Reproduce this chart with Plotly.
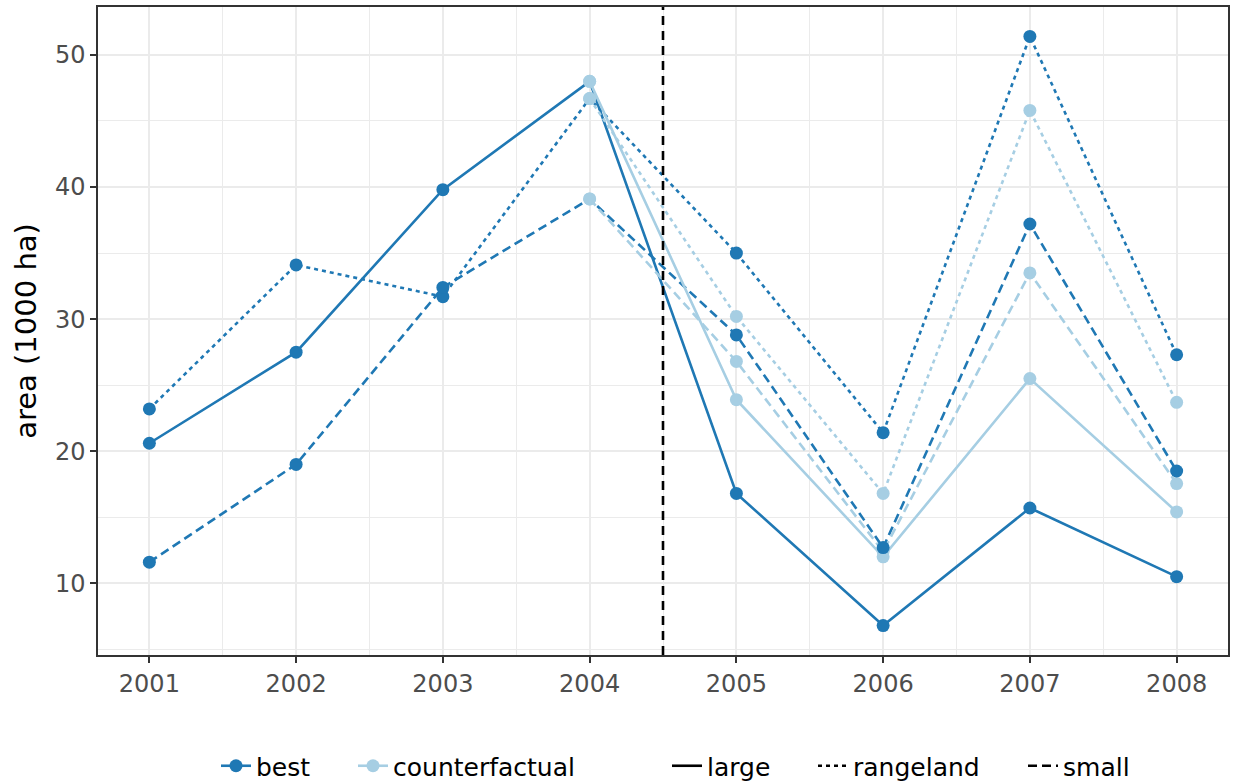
import plotly.graph_objects as go

years = [2001, 2002, 2003, 2004, 2005, 2006, 2007, 2008]
best_large = [20.6, 27.5, 39.8, 48.0, 16.8, 6.8, 15.7, 10.5]
best_rangeland = [23.2, 34.1, 31.7, 46.7, 35.0, 21.4, 51.4, 27.3]
best_small = [11.6, 19.0, 32.4, 39.1, 28.8, 12.7, 37.2, 18.5]

cf_years = [2004, 2005, 2006, 2007, 2008]
cf_large = [48.0, 23.9, 12.0, 25.5, 15.4]
cf_rangeland = [46.7, 30.2, 16.8, 45.8, 23.7]
cf_small = [39.1, 26.8, 12.4, 33.5, 17.55]

scenarios = ["best", "counterfactual"]
types = ["large", "rangeland", "small"]
policy_year = 2004.5

BEST_C = "#1F78B4"
CF_C = "#A6CEE3"
dash_of = {"large": "solid", "rangeland": "4px,4px", "small": "9px,5px"}

best = {"large": best_large, "rangeland": best_rangeland, "small": best_small}
cf = {"large": cf_large, "rangeland": cf_rangeland, "small": cf_small}

FONT = "DejaVu Sans"
LW = 2.6
MS = 13
fig = go.Figure()

# lines (under points)
for t in types:
    fig.add_trace(go.Scatter(x=years, y=best[t], mode="lines",
                             line=dict(color=BEST_C, width=LW, dash=dash_of[t]),
                             showlegend=False, hoverinfo="skip"))
for t in types:
    fig.add_trace(go.Scatter(x=cf_years, y=cf[t], mode="lines",
                             line=dict(color=CF_C, width=LW, dash=dash_of[t]),
                             showlegend=False, hoverinfo="skip"))

# points
for t in types:
    fig.add_trace(go.Scatter(x=cf_years, y=cf[t], mode="markers",
                             marker=dict(color=CF_C, size=MS),
                             showlegend=False))
for t in types:
    cols = []
    for yr, v in zip(years, best[t]):
        if yr in cf_years and cf[t][cf_years.index(yr)] == v:
            cols.append(CF_C)
        else:
            cols.append(BEST_C)
    fig.add_trace(go.Scatter(x=years, y=best[t], mode="markers",
                             marker=dict(color=cols, size=MS),
                             showlegend=False))

# legends
legend_ids = ["legend", "legend2", "legend3", "legend4", "legend5"]
for name, col, lid in zip(scenarios, [BEST_C, CF_C], legend_ids[:2]):
    fig.add_trace(go.Scatter(x=[None], y=[None], mode="lines+markers", name=name,
                             line=dict(color=col, width=LW),
                             marker=dict(color=col, size=MS), legend=lid))
for t, lid in zip(types, legend_ids[2:]):
    fig.add_trace(go.Scatter(x=[None], y=[None], mode="lines", name=t,
                             line=dict(color="black", width=LW, dash=dash_of[t]),
                             legend=lid))

fig.add_shape(type="line", x0=policy_year, x1=policy_year, y0=0, y1=1,
              xref="x", yref="paper",
              line=dict(color="black", width=2.6, dash="9px,6px"))

text_x = [260, 397, 711, 857, 1067]
leg_common = dict(orientation="h", xref="container", yref="container",
                  yanchor="middle", y=(782 - 766) / 782, xanchor="left",
                  font=dict(family=FONT, size=25, color="black"),
                  bgcolor="rgba(0,0,0,0)", borderwidth=0)
legends = {}
for lid, tx in zip(legend_ids, text_x):
    legends[lid] = dict(leg_common, x=(tx - 44) / 1235)

fig.update_layout(
    width=1235, height=782,
    margin=dict(l=98, r=6, t=5, b=127),
    paper_bgcolor="white", plot_bgcolor="white",
    font=dict(family=FONT),
    **legends,
    xaxis=dict(range=[2000.65, 2008.35], tickvals=years,
               ticktext=[str(y) for y in years],
               showgrid=True, gridcolor="#EBEBEB", gridwidth=2,
               minor=dict(dtick=0.5, tick0=2000.5, showgrid=True,
                          gridcolor="#EBEBEB", gridwidth=1),
               showline=True, mirror=True, linecolor="#333333", linewidth=1.5,
               ticks="outside", ticklen=6, tickwidth=2, tickcolor="#333333",
               tickfont=dict(family=FONT, size=24, color="#4D4D4D"),
               zeroline=False),
    yaxis=dict(range=[4.57, 53.63], tickvals=[10, 20, 30, 40, 50],
               showgrid=True, gridcolor="#EBEBEB", gridwidth=2,
               minor=dict(dtick=5, tick0=5, showgrid=True,
                          gridcolor="#EBEBEB", gridwidth=1),
               showline=True, mirror=True, linecolor="#333333", linewidth=1.5,
               ticks="outside", ticklen=6, tickwidth=2, tickcolor="#333333",
               tickfont=dict(family=FONT, size=24, color="#4D4D4D"),
               title=dict(text="area (1000 ha)", standoff=10,
                          font=dict(family=FONT, size=29, color="black")),
               zeroline=False),
)

fig.write_html("out.html")
